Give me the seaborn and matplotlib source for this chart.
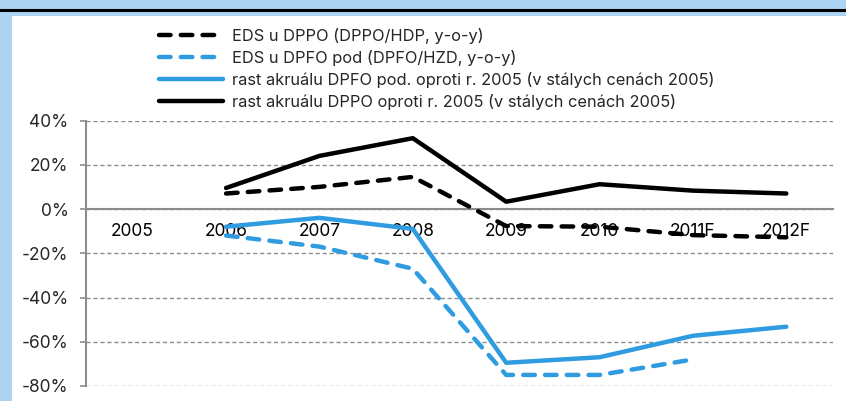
import numpy as np
import pandas as pd
import matplotlib.pyplot as plt
import seaborn as sns
from matplotlib.lines import Line2D
from matplotlib.patches import Rectangle
from matplotlib.ticker import FuncFormatter

years = ['2005', '2006', '2007', '2008', '2009', '2010', '2011F', '2012F']

# values in %
eds_dppo = [np.nan, 7, 10, 14.5, -7.7, -8, -11.8, -12.8]
eds_dpfo = [np.nan, -12, -17, -27, -75, -75, -68, np.nan]
akrual_dpfo = [np.nan, -8, -4, -9, -69.5, -67, -57.3, -53.2]
akrual_dppo = [np.nan, 9.5, 24, 32, 3.3, 11.2, 8.3, 7]

labels = [
    'EDS u DPPO (DPPO/HDP, y-o-y)',
    'EDS u DPFO pod (DPFO/HZD, y-o-y)',
    'rast akruálu DPFO pod. oproti r. 2005 (v stálych cenách 2005)',
    'rast akruálu DPPO oproti r. 2005 (v stálych cenách 2005)',
]
series = [eds_dppo, eds_dpfo, akrual_dpfo, akrual_dppo]

BLUE = '#2f9be0'
LIGHT = '#acd3f2'
colors = ['black', BLUE, BLUE, 'black']
dashed = [True, True, False, False]

sns.set_theme(style='white')
plt.rcParams['font.family'] = ['Inter', 'DejaVu Sans']

fig = plt.figure(figsize=(8.46, 4.01), dpi=100)
fig.patch.set_facecolor(LIGHT)
fig.add_artist(Rectangle((12 / 846, 0), 1, (401 - 16) / 401, transform=fig.transFigure,
                         facecolor='white', edgecolor='none', zorder=0))
fig.add_artist(Line2D([0, 1], [1 - 10 / 401] * 2, transform=fig.transFigure,
                      color='black', lw=2.2))

ax = fig.add_axes([86 / 846, 1 - 386 / 401, (833 - 86) / 846, (386 - 120.5) / 401])
ax.set_facecolor('none')

pos = np.arange(len(years))
handles = []
for vals, lab, col, ds in zip(series, labels, colors, dashed):
    df = pd.DataFrame({'x': pos, 'y': vals}).dropna()
    sns.lineplot(data=df, x='x', y='y', ax=ax, color=col, lw=3.2, zorder=3)
    ln = ax.lines[-1]
    ln.set_solid_capstyle('round')
    if ds:
        ln.set_linestyle((0, (2.6, 2.3)))
        ln.set_dash_capstyle('round')
    handles.append(ln)

ax.set_xlim(-0.5, 7.5)
ax.set_ylim(-80, 40)
ax.set_yticks(range(-80, 41, 20))
ax.yaxis.set_major_formatter(FuncFormatter(lambda v, p: f'{v:.0f}%'))
ax.set_xticks(pos)
ax.set_xticklabels(years)
ax.set_xticks(np.arange(-0.5, 7.6, 1), minor=True)
ax.set_xlabel('')
ax.set_ylabel('')

ax.grid(axis='y', color='#8c8c8c', ls=(0, (3, 2)), lw=1)
for s in ['top', 'right']:
    ax.spines[s].set_visible(False)
ax.spines['bottom'].set_position(('data', 0))
ax.spines['bottom'].set_color('#8c8c8c')
ax.spines['bottom'].set_linewidth(1.5)
ax.spines['bottom'].set_zorder(2)
ax.spines['left'].set_color('#8c8c8c')
ax.spines['left'].set_linewidth(1.5)

ax.tick_params(axis='x', which='major', length=0, pad=10, labelsize=12.5, colors='black')
ax.tick_params(axis='x', which='minor', length=5, width=1.5, direction='out', color='#8c8c8c')
ax.tick_params(axis='y', length=4.5, width=1.2, color='#8c8c8c', pad=8, labelsize=12.5, left=True)

ax.legend(handles, labels, loc='upper left', bbox_to_anchor=(151 / 846, 1 - 20 / 401),
          bbox_transform=fig.transFigure, frameon=False, fontsize=11.8,
          handlelength=3.9, handletextpad=0.55, labelspacing=0.36, borderpad=0)

fig.savefig('out.png', dpi=100, facecolor=fig.get_facecolor())
